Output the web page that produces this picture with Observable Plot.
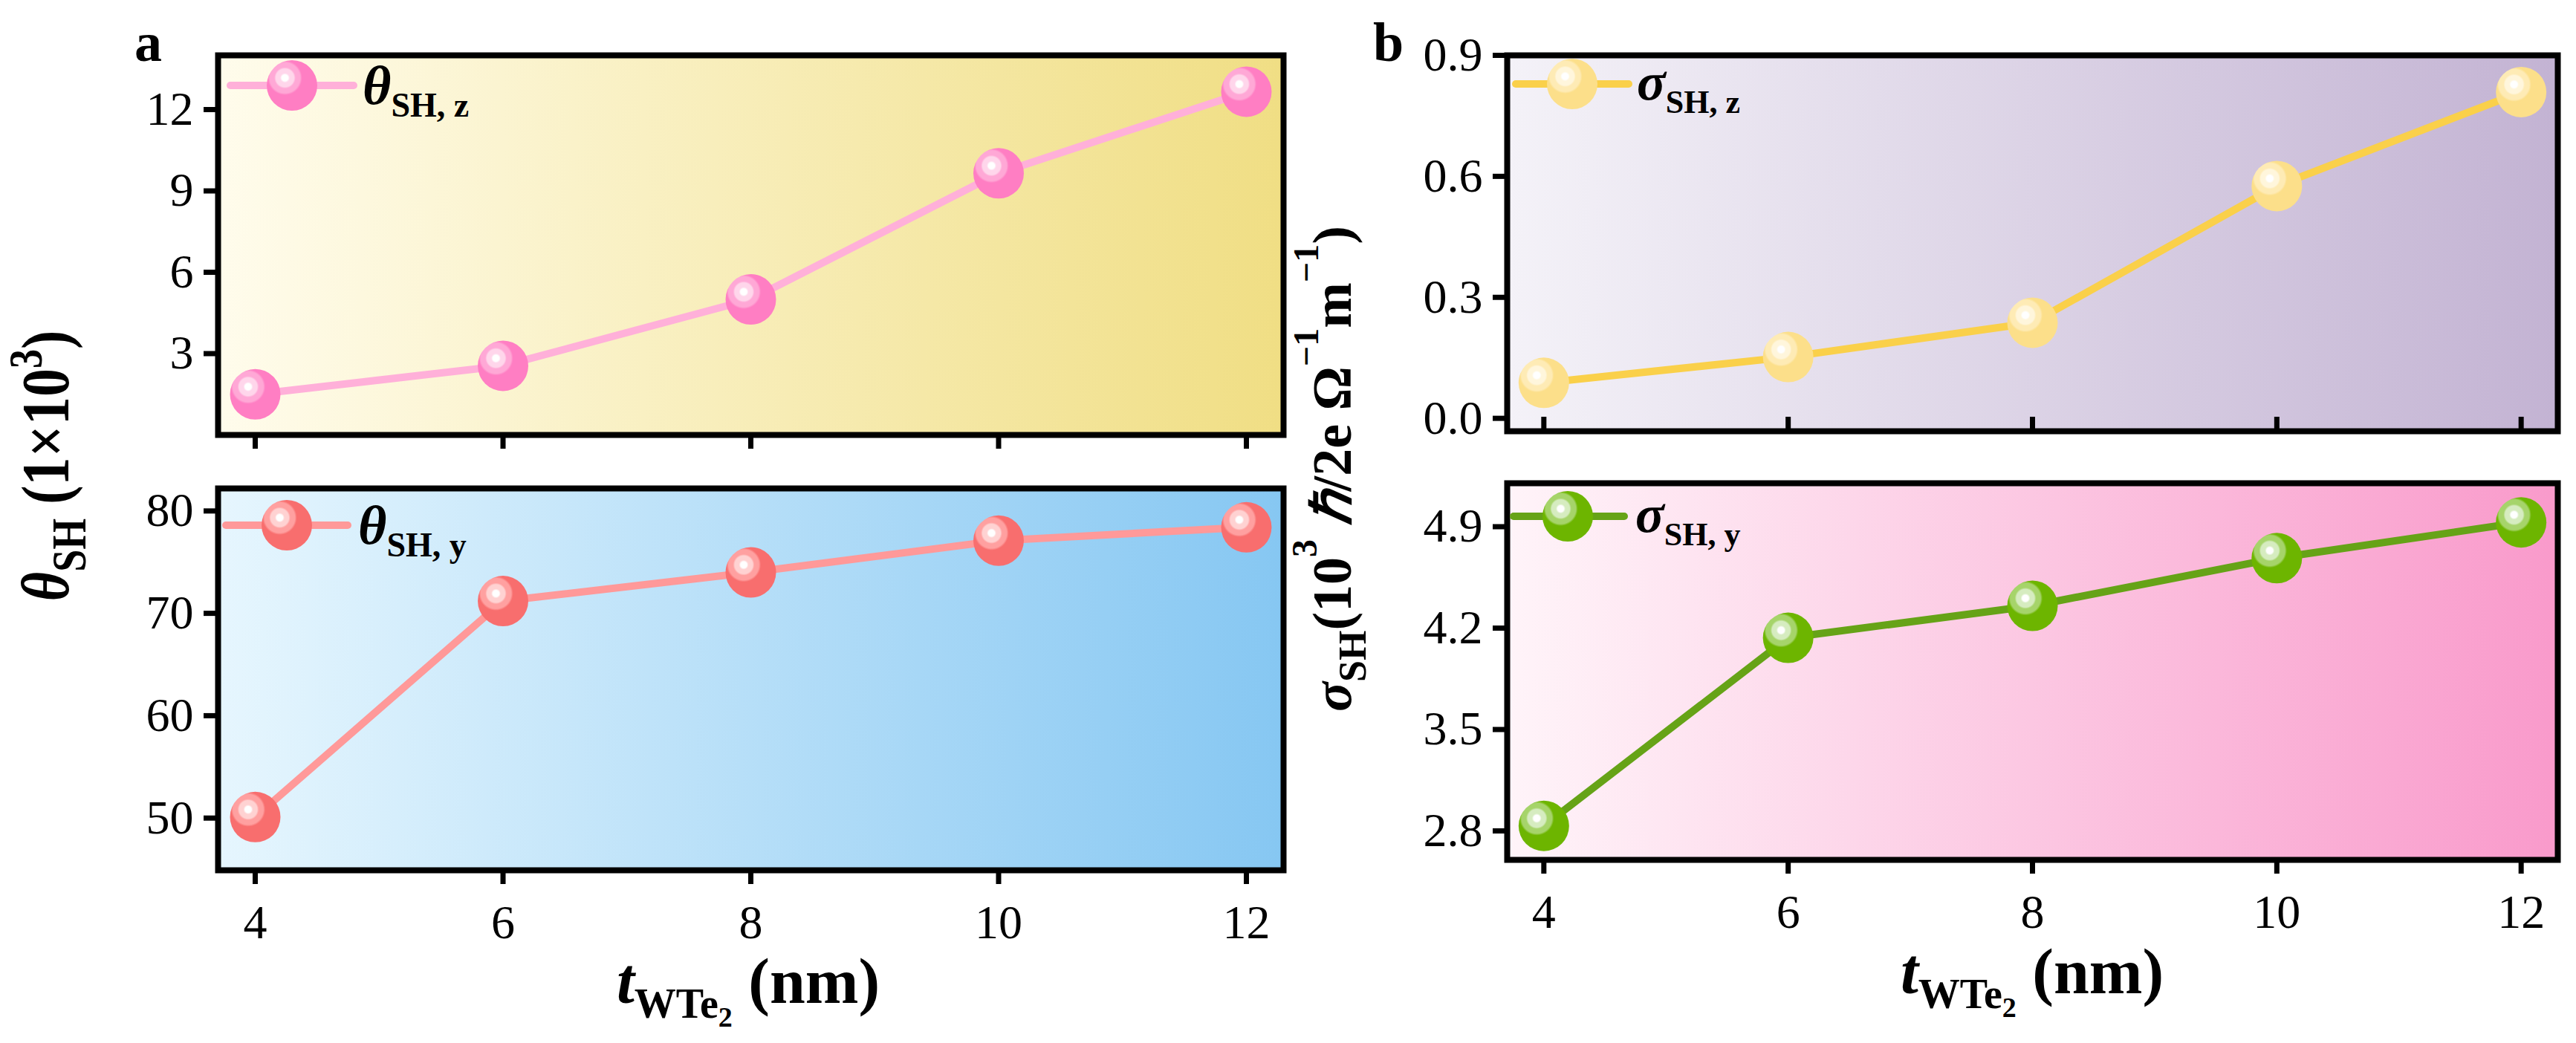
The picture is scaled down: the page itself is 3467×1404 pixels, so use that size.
<!DOCTYPE html>
<html><head><meta charset="utf-8">
<script src="https://cdn.jsdelivr.net/npm/d3@7"></script>
<script src="https://cdn.jsdelivr.net/npm/@observablehq/plot@0.6"></script>
<style>
body{margin:0;background:#fff;}
#root{position:relative;width:3467px;height:1404px;overflow:hidden;font-family:"Liberation Serif","Times New Roman",serif;}
#overlay{position:absolute;left:0;top:0;z-index:5;pointer-events:none;}
</style></head><body>
<svg width="0" height="0" style="position:absolute">
<defs>
<linearGradient id="bgA1" x1="0" x2="1" y1="0" y2="0"><stop offset="0" stop-color="#fffcec"/><stop offset="1" stop-color="#f0de84"/></linearGradient>
<linearGradient id="bgA2" x1="0" x2="1" y1="0" y2="0"><stop offset="0" stop-color="#e6f6fe"/><stop offset="1" stop-color="#86c7f2"/></linearGradient>
<linearGradient id="bgB1" x1="0" x2="1" y1="0" y2="0"><stop offset="0" stop-color="#f4f2f8"/><stop offset="1" stop-color="#c3b3d3"/></linearGradient>
<linearGradient id="bgB2" x1="0" x2="1" y1="0" y2="0"><stop offset="0" stop-color="#fff4f9"/><stop offset="1" stop-color="#f99acb"/></linearGradient>
<radialGradient id="spA1" cx="0.36" cy="0.35" r="0.34" fx="0.36" fy="0.35"><stop offset="0" stop-color="#fff"/><stop offset="0.18" stop-color="#fff"/><stop offset="0.28" stop-color="#ffd6eb"/><stop offset="0.52" stop-color="#ffd6eb"/><stop offset="0.62" stop-color="#ffa8d6"/><stop offset="0.88" stop-color="#ffa8d6"/><stop offset="1" stop-color="#ff7ec3"/></radialGradient>
<radialGradient id="spA2" cx="0.36" cy="0.35" r="0.34" fx="0.36" fy="0.35"><stop offset="0" stop-color="#fff"/><stop offset="0.18" stop-color="#fff"/><stop offset="0.28" stop-color="#ffd2d2"/><stop offset="0.52" stop-color="#ffd2d2"/><stop offset="0.62" stop-color="#ffa0a0"/><stop offset="0.88" stop-color="#ffa0a0"/><stop offset="1" stop-color="#f86e6e"/></radialGradient>
<radialGradient id="spB1" cx="0.36" cy="0.35" r="0.34" fx="0.36" fy="0.35"><stop offset="0" stop-color="#fff"/><stop offset="0.18" stop-color="#fff"/><stop offset="0.28" stop-color="#fff6dc"/><stop offset="0.52" stop-color="#fff6dc"/><stop offset="0.62" stop-color="#feebb5"/><stop offset="0.88" stop-color="#feebb5"/><stop offset="1" stop-color="#fcdf8a"/></radialGradient>
<radialGradient id="spB2" cx="0.36" cy="0.35" r="0.34" fx="0.36" fy="0.35"><stop offset="0" stop-color="#fff"/><stop offset="0.18" stop-color="#fff"/><stop offset="0.28" stop-color="#d6ecc0"/><stop offset="0.52" stop-color="#d6ecc0"/><stop offset="0.62" stop-color="#a6d46a"/><stop offset="0.88" stop-color="#a6d46a"/><stop offset="1" stop-color="#6db500"/></radialGradient>
</defs></svg>
<div id="root"></div>
<script>
// ---- data ----
const thickness = [4, 6, 8, 10, 12];
const thetaZ = [1.5, 2.55, 5.0, 9.65, 12.66];
const thetaY = [50.1, 71.2, 74.0, 77.1, 78.4];
const sigmaZ = [0.088, 0.152, 0.237, 0.576, 0.809];
const sigmaY = [2.835, 4.133, 4.354, 4.683, 4.93];
const xTicks = [4, 6, 8, 10, 12];
const thetaZTicks = [3, 6, 9, 12];
const thetaYTicks = [50, 60, 70, 80];
const sigmaZTicks = [0.0, 0.3, 0.6, 0.9];
const sigmaYTicks = [2.8, 3.5, 4.2, 4.9];

const FONT = '"Liberation Serif","Times New Roman",serif';
const root = document.getElementById("root");
const table = vals => thickness.map((t, i) => ({t, v: vals[i]}));

function panel(o) {
  const data = table(o.values);
  const marks = [
    Plot.frame({fill: `url(#${o.bg})`}),
    Plot.line(data, {x: "t", y: "v", stroke: o.lineColor, strokeWidth: 10}),
    Plot.dot(data, {x: "t", y: "v", r: 34, fill: `url(#${o.grad})`}),
    Plot.axisY(o.yTicks, {tickSize: 19, tickPadding: 14, strokeWidth: 7, fontSize: 64, tickFormat: o.yFmt})
  ];
  if (o.xMode === "labels") marks.push(Plot.axisX(xTicks, {tickSize: 19, tickPadding: 27, strokeWidth: 7, fontSize: 64, tickFormat: d => String(d)}));
  else if (o.xMode === "out") marks.push(Plot.axisX(xTicks, {tickSize: 19, strokeWidth: 7, tickFormat: () => ""}));
  else marks.push(Plot.tickX(xTicks, {x: d => d, insetTop: o.height - o.mt - o.mb - 19, stroke: "#000", strokeWidth: 7}));
  marks.push(Plot.frame({stroke: "#000", strokeWidth: 8}));
  const p = Plot.plot({
    width: o.width, height: o.height,
    marginTop: o.mt, marginBottom: o.mb, marginLeft: o.ml, marginRight: o.mr,
    x: {domain: [3.7, 12.3], label: null, ...(o.xMode === "in" ? {axis: null} : {})},
    y: {domain: o.yDomain, label: null},
    style: {background: "transparent", fontFamily: FONT, fontSize: "64px", color: "#000", overflow: "visible"},
    marks
  });
  p.style.position = "absolute";
  p.style.left = o.left + "px";
  p.style.top = o.top + "px";
  root.appendChild(p);
}

panel({left: 0, top: 0, width: 1760, height: 620, mt: 74, mb: 35, ml: 293, mr: 33,
  yDomain: [0, 14], yTicks: thetaZTicks, yFmt: d => String(d), values: thetaZ,
  lineColor: "#ffb0d9", grad: "spA1", bg: "bgA1", xMode: "out"});
panel({left: 0, top: 620, width: 1760, height: 784, mt: 37, mb: 233, ml: 293, mr: 33,
  yDomain: [44.9, 82.2], yTicks: thetaYTicks, yFmt: d => String(d), values: thetaY,
  lineColor: "#ff9999", grad: "spA2", bg: "bgA2", xMode: "labels"});
panel({left: 1760, top: 0, width: 1707, height: 620, mt: 74, mb: 40, ml: 268, mr: 25,
  yDomain: [-0.032, 0.9], yTicks: sigmaZTicks, yFmt: d3.format(".1f"), values: sigmaZ,
  lineColor: "#fad04a", grad: "spB1", bg: "bgB1", xMode: "in"});
panel({left: 1760, top: 620, width: 1707, height: 784, mt: 30, mb: 247, ml: 268, mr: 25,
  yDomain: [2.6, 5.2], yTicks: sigmaYTicks, yFmt: d3.format(".1f"), values: sigmaY,
  lineColor: "#66a317", grad: "spB2", bg: "bgB2", xMode: "labels"});

// ---- overlay text: panel labels, axis titles, legends ----
const legends = [
  {x1: 310, x2: 476, y: 115, mx: 393, tx: 488, sym: "θ", sub: "SH, z", line: "#ffb0d9", grad: "spA1", base: 25, sdy: 17, fs: 74, sfs: 46},
  {x1: 304, x2: 468, y: 707, mx: 386, tx: 482, sym: "θ", sub: "SH, y", line: "#ff9999", grad: "spA2", base: 25, sdy: 17, fs: 74, sfs: 46},
  {x1: 2040, x2: 2192, y: 113, mx: 2116, tx: 2203, sym: "σ", sub: "SH, z", line: "#fad04a", grad: "spB1", base: 21, sdy: 18, fs: 72, sfs: 44},
  {x1: 2037, x2: 2186, y: 695, mx: 2110, tx: 2201, sym: "σ", sub: "SH, y", line: "#66a317", grad: "spB2", base: 21, sdy: 18, fs: 72, sfs: 44}
];
let s = `<svg id="overlay" width="3467" height="1404" xmlns="http://www.w3.org/2000/svg" font-family='${FONT}' fill="#000">`;
s += `<text x="181" y="82" font-size="74" font-weight="bold">a</text>`;
s += `<text x="1848" y="82" font-size="74" font-weight="bold">b</text>`;
for (const L of legends) {
  s += `<line x1="${L.x1}" y1="${L.y}" x2="${L.x2}" y2="${L.y}" stroke="${L.line}" stroke-width="10" stroke-linecap="round"/>`;
  s += `<circle cx="${L.mx}" cy="${L.y}" r="34" fill="url(#${L.grad})"/>`;
  s += `<text x="${L.tx}" y="${L.y + L.base}" font-weight="bold"><tspan font-style="italic" font-size="${L.fs}">${L.sym}</tspan><tspan font-size="${L.sfs}" dy="${L.sdy}">${L.sub}</tspan></text>`;
}
// x titles
const xt = (cx, by) => `<text x="${cx}" y="${by}" text-anchor="middle" font-weight="bold" font-size="86"><tspan font-style="italic">t</tspan><tspan font-size="56" dy="20">WTe</tspan><tspan font-size="38" dy="12">2</tspan><tspan dy="-32"> (nm)</tspan></text>`;
s += xt(1007, 1350);
s += xt(2735, 1337);
// y title a (glyphs slightly stretched as in the original)
s += `<text transform="translate(92,627) rotate(-90) scale(1,1.2)" text-anchor="middle" font-weight="bold" font-size="76"><tspan font-style="italic">θ</tspan><tspan font-size="54" dy="19">SH</tspan><tspan dy="-19"> (1×10</tspan><tspan font-size="52" dy="-30">3</tspan><tspan dy="30">)</tspan></text>`;
// y title b
s += `<text transform="translate(1818,631) rotate(-90)" text-anchor="middle" font-weight="bold" font-size="74"><tspan font-style="italic">σ</tspan><tspan font-size="52" dy="20">SH</tspan><tspan dy="-20">(10</tspan><tspan font-size="48" dy="-46">3</tspan><tspan dy="46"> </tspan><tspan font-style="italic">ℏ</tspan><tspan>/2e Ω</tspan><tspan font-size="48" dy="-44">−1</tspan><tspan dy="44">m</tspan><tspan font-size="48" dy="-44">−1</tspan><tspan dy="44">)</tspan></text>`;
s += `</svg>`;
root.insertAdjacentHTML("beforeend", s);
</script>
</body></html>
